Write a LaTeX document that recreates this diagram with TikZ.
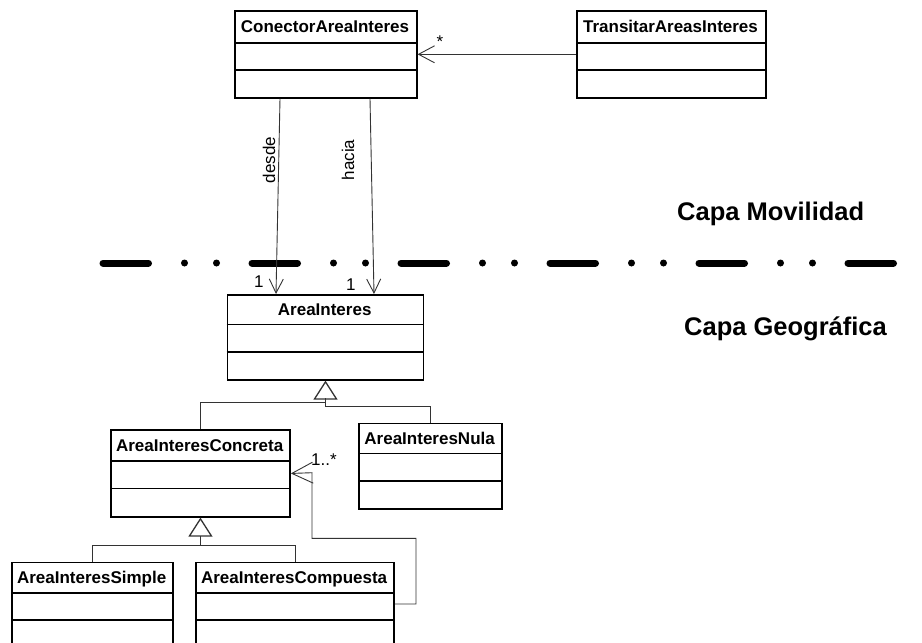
\documentclass[tikz,border=0pt]{standalone}
\usepackage{fontspec}
\setmainfont{Liberation Sans}
\usetikzlibrary{arrows.meta,calc}

% UML class: name, left, top, right, first divider, second divider, bottom, title
\newcommand\umlclass[8]{%
  \node[clsbox, anchor=north west, minimum width={#4-#2}, minimum height={#7-#3}] (#1) at (#2,#3) {};
  \node[clsname, anchor=base] (#1-name) at ({(#2+#4)/2},{(#3+#5)/2+6}) {#8};
  \draw[divider] (#1.west |- 0,#5) -- (#1.east |- 0,#5);
  \draw[divider] (#1.west |- 0,#6) -- (#1.east |- 0,#6);
}

\begin{document}
\begin{tikzpicture}[x=1pt,y=-1pt,
  clsbox/.style={draw=black, line width=1.6pt, rectangle, inner sep=0pt, fill=white},
  clsname/.style={font=\fontsize{17}{20}\selectfont\bfseries, inner sep=0pt},
  divider/.style={draw=black, line width=1.6pt},
  assoc/.style={draw=black!80, line width=0.9pt},
  gen/.style={draw=black!80, line width=0.9pt},
  gentip/.style={-{Triangle[open, length=19pt, width=24pt, line width=1.3pt, fill=white]}},
  role/.style={font=\fontsize{17}{20}\selectfont, inner sep=0pt},
  layer/.style={font=\fontsize{25.5}{30}\selectfont\bfseries, inner sep=0pt, anchor=base west},
  separator/.style={line width=7pt, line cap=round,
    dash pattern=on 45.5pt off 36pt on 0pt off 32pt on 0pt off 35.5pt}
]
\useasboundingbox (0,0) rectangle (922,643);
\clip (0,0) rectangle (922,643);

% layer separator
\coordinate (sepL) at (103,263);
\coordinate (sepR) at (894,263);
\draw[separator] (sepL) -- (sepR);

\node[layer] (capamov) at (677,220) {Capa Movilidad};
\node[layer] (capageo) at (684,335) {Capa Geográfica};

% classes
\umlclass{con}{234}{10}{416}{42.7}{70}{97}{ConectorAreaInteres}
\umlclass{trans}{576}{10}{765}{42.7}{70}{97}{TransitarAreasInteres}
\umlclass{ai}{226.7}{294}{422.7}{324.3}{351.7}{379}{AreaInteres}
\umlclass{conc}{110}{429.3}{289.3}{461}{488.3}{516}{AreaInteresConcreta}
\umlclass{nula}{358.3}{422.7}{501}{453.3}{480.7}{508.3}{AreaInteresNula}
\umlclass{simple}{11}{561.7}{172.3}{592.7}{620}{670}{AreaInteresSimple}
\umlclass{comp}{195}{561.7}{393.3}{592.7}{620}{670}{AreaInteresCompuesta}

% associations
\draw[assoc, -{Straight Barb[length=16pt, width=17pt]}] (trans.west) -- (con.east);
\node[role, anchor=base] (mstar) at (440,47.7) {*};

\draw[assoc, -{Straight Barb[length=14pt, width=14pt]}] (con.south -| 280,0) -- (ai.north -| 276,0);
\draw[assoc, -{Straight Barb[length=14pt, width=14pt]}] (con.south -| 370,0) -- (ai.north -| 374,0);
\node[role, rotate=90] (ldesde) at (269,160) {desde};
\node[role, rotate=90] (lhacia) at (348,160) {hacia};
\node[role, anchor=base west] (m1) at (254,287) {1};
\node[role, anchor=base west] (m2) at (346,290) {1};

% generalizations
\coordinate (j1) at (ai.south |- 0,402.7);
\draw[gen, gentip] (conc.north) |- (j1) -- (ai.south);
\draw[gen] (nula.north) |- (ai.south |- 0,406) -- (ai.south |- 0,398);

\coordinate (j2) at (conc.south |- 0,545.7);
\draw[gen, gentip] (simple.north) |- (j2) -- (conc.south);
\draw[gen] (comp.north) |- (j2);

% composite self reference
\coordinate (s0) at (comp.north east |- 0,604);
\draw[assoc, -{Straight Barb[length=21pt, width=21pt]}] (s0) -- (416,604) -- (416,538.3) -- (312,538.3) -- (312,472.7) -- (conc.east);
\node[role, anchor=base west] (m3) at (311,465) {1..*};
\end{tikzpicture}
\end{document}
